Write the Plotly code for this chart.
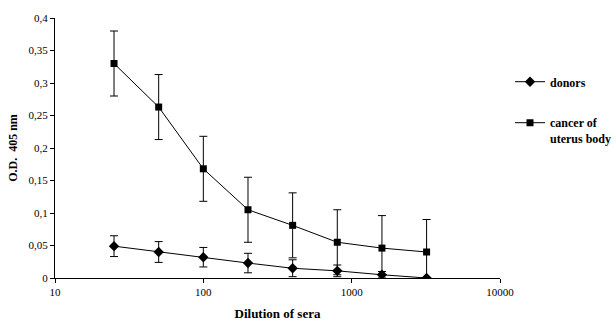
import plotly.graph_objects as go

dilution = [25, 50, 100, 200, 400, 800, 1600, 3200]
donors = [0.049, 0.040, 0.032, 0.023, 0.015, 0.011, 0.005, 0.0]
donors_sd = [0.016, 0.016, 0.015, 0.015, 0.013, 0.009, 0.005, 0.0]
cancer = [0.330, 0.263, 0.168, 0.105, 0.081, 0.055, 0.046, 0.040]
cancer_sd = [0.050, 0.050, 0.050, 0.050, 0.050, 0.050, 0.050, 0.050]

y_ticks = [0, 0.05, 0.1, 0.15, 0.2, 0.25, 0.3, 0.35, 0.4]
y_ticktext = ["0", "0,05", "0,1", "0,15", "0,2", "0,25", "0,3", "0,35", "0,4"]
x_ticks = [10, 100, 1000, 10000]
x_ticktext = ["10", "100", "1000", "10000"]

font = "Liberation Serif"

fig = go.Figure()
fig.add_trace(go.Scatter(
    x=dilution, y=donors, mode="lines+markers", name="<b>donors</b>",
    legendgroup="d",
    line=dict(color="black", width=1),
    marker=dict(symbol="diamond", size=8, color="black"),
    error_y=dict(type="data", array=donors_sd, color="black", thickness=1, width=4),
))
fig.add_trace(go.Scatter(
    x=dilution, y=cancer, mode="lines+markers", name="<b>cancer of<br>uterus body</b>",
    legendgroup="c",
    line=dict(color="black", width=1),
    marker=dict(symbol="square", size=7, color="black"),
    error_y=dict(type="data", array=cancer_sd, color="black", thickness=1, width=4),
))

fig.update_layout(
    width=616, height=321,
    margin=dict(l=55, r=116, t=18, b=43, autoexpand=False),
    paper_bgcolor="white", plot_bgcolor="white",
    font=dict(family=font, size=11, color="black"),
    showlegend=True,
    legend=dict(x=1.0225, y=0.81, xanchor="left", yanchor="top",
                font=dict(family=font, size=12, color="black"),
                bgcolor="rgba(0,0,0,0)", tracegroupgap=22, itemwidth=30,
                valign="top"),
    xaxis=dict(type="log", range=[1, 4], tickvals=x_ticks, ticktext=x_ticktext,
               showgrid=False, zeroline=False, showline=True, linecolor="black",
               linewidth=1, ticks="outside", ticklen=4, tickcolor="black",
               tickfont=dict(family=font, size=11), automargin=False,
               title=dict(text="<b>Dilution of sera</b>", font=dict(family=font, size=13), standoff=12)),
    yaxis=dict(range=[0, 0.4], tickvals=y_ticks, ticktext=y_ticktext,
               showgrid=False, zeroline=False, showline=True, linecolor="black",
               linewidth=1, ticks="outside", ticklen=4, tickcolor="black",
               tickfont=dict(family=font, size=11), automargin=False,
               title=dict(text="<b>O.D.  405 nm</b>", font=dict(family=font, size=12), standoff=8)),
)

fig.write_html("out.html")
